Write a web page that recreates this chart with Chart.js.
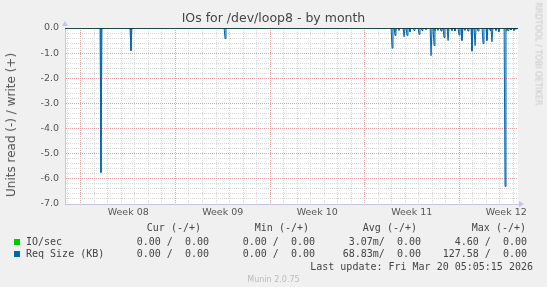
<!DOCTYPE html>
<html lang="en">
    <head>
        <meta charset="UTF-8" />
        <title>IOs for /dev/loop8 - by month</title>
        <script src="https://cdn.jsdelivr.net/npm/chart.js@4/dist/chart.umd.min.js"></script>
        <style>
            body { margin: 0; background: #f0f0f0; }
            #wrap { position: relative; width: 547px; height: 287px; overflow: hidden; }
            #myChart { position: absolute; left: 0; top: 0; }
            .t { position: absolute; white-space: pre; color: #444; }
            .mono { font-family: "DejaVu Sans Mono", monospace; font-size: 10px; line-height: 12px; }
            .sq { position: absolute; width: 6px; height: 6px; }
        </style>
    </head>

    <body>
        <div id="wrap">
            <canvas id="myChart" width="547" height="287"></canvas>
            <div class="t" style="left:0;width:547px;top:10px;text-align:center;font:12.5px 'DejaVu Sans';color:#444">IOs for /dev/loop8 - by month</div>
            <div class="t" style="left:11px;top:125px;transform:translate(-50%,-50%) rotate(-90deg);font:12px 'DejaVu Sans';color:#555">Units read (-) / write (+)</div>
            <div class="t" style="left:538px;top:54px;transform:translate(-50%,-50%) rotate(90deg);font:8px 'DejaVu Sans';color:#c8c8c8">RRDTOOL / TOBI OETIKER</div>

            <div class="t mono" style="right:346px;top:222px">Cur (-/+)</div>
            <div class="t mono" style="right:238px;top:222px">Min (-/+)</div>
            <div class="t mono" style="right:130px;top:222px">Avg (-/+)</div>
            <div class="t mono" style="right:21px;top:222px">Max (-/+)</div>

            <div class="sq" style="left:14px;top:239px;background:#00cc00"></div>
            <div class="t mono" style="left:26px;top:236px">IO/sec</div>
            <div class="t mono" style="right:338px;top:236px">0.00 /  0.00</div>
            <div class="t mono" style="right:232px;top:236px">0.00 /  0.00</div>
            <div class="t mono" style="right:126px;top:236px">3.07m/  0.00</div>
            <div class="t mono" style="right:20px;top:236px">4.60 /  0.00</div>

            <div class="sq" style="left:14px;top:251px;background:#0066b3"></div>
            <div class="t mono" style="left:26px;top:248px">Req Size (KB)</div>
            <div class="t mono" style="right:338px;top:248px">0.00 /  0.00</div>
            <div class="t mono" style="right:232px;top:248px">0.00 /  0.00</div>
            <div class="t mono" style="right:126px;top:248px">68.83m/  0.00</div>
            <div class="t mono" style="right:20px;top:248px">127.58 /  0.00</div>

            <div class="t mono" style="right:14px;top:261px">Last update: Fri Mar 20 05:05:15 2026</div>
            <div class="t" style="left:0;width:547px;top:275px;text-align:center;font:8px 'DejaVu Sans';color:#bbb">Munin 2.0.75</div>
        </div>
    </body>

    <script>
        // x = days since Mon 16 Feb 2026 00:00 (start of week 08)
        const xMin = -1.185;
        const xMax = 32.37;
        const firstWeek = 8;

        // Req Size (KB), read side (negative)
        const reqDays = [1.48, 3.7, 10.67, 23.04, 23.26, 23.56, 23.93, 24.15, 24.37, 24.67, 25.04, 25.26, 25.56,
            25.93, 26.15, 26.44, 26.67, 26.89, 27.19, 27.48, 27.7, 28.0, 28.22, 28.44, 28.67, 28.96, 29.19,
            29.41, 29.78, 30.07, 30.3, 30.44, 30.74, 30.96, 31.41, 31.63, 31.85, 32.07, 32.22];
        const reqVals = [-5.75, -0.9, -0.42, -0.8, -0.3, -0.1, -0.35, -0.3, -0.15, -0.1, -0.25, -0.1, -0.08,
            -1.1, -0.7, -0.1, -0.12, -0.38, -0.5, -0.1, -0.12, -0.28, -0.5, -0.1, -0.12, -0.92, -0.7,
            -0.12, -0.62, -0.5, -0.1, -0.55, -0.1, -0.15, -6.3, -0.1, -0.08, -0.1, -0.05];

        // IO/sec, read side
        const ioDays = [23.26, 26.22, 27.19, 31.55];
        const ioVals = [-0.12, -0.12, -0.12, -0.12];

        function series(days, vals) {
            const pts = [{ x: xMin, y: 0 }];
            days.forEach((d, i) => {
                pts.push({ x: d - 0.07, y: 0 });
                pts.push({ x: d, y: vals[i] });
                pts.push({ x: d + 0.07, y: 0 });
            });
            pts.push({ x: xMax, y: 0 });
            return pts;
        }

        const axisCol = "#c4c4e4";

        const plotBg = {
            id: "plotBg",
            beforeDraw(chart) {
                const a = chart.chartArea;
                const ctx = chart.ctx;
                ctx.save();
                ctx.fillStyle = "#ffffff";
                ctx.fillRect(a.left, a.top, a.right - a.left, a.bottom - a.top);
                ctx.restore();
            },
            afterDraw(chart) {
                const a = chart.chartArea;
                const ctx = chart.ctx;
                ctx.save();
                ctx.fillStyle = axisCol;
                // arrow on top of y axis
                ctx.beginPath();
                ctx.moveTo(a.left - 3, a.top - 2);
                ctx.lineTo(a.left + 3, a.top - 2);
                ctx.lineTo(a.left, a.top - 7);
                ctx.fill();
                // arrow on right of x axis
                ctx.beginPath();
                ctx.moveTo(a.right + 1, a.bottom - 3);
                ctx.lineTo(a.right + 1, a.bottom + 3);
                ctx.lineTo(a.right + 6, a.bottom);
                ctx.fill();
                ctx.restore();
            },
        };

        const chart = new Chart("myChart", {
            type: "line",
            data: {
                datasets: [
                    {
                        data: [{ x: xMin, y: 0 }, { x: xMax, y: 0 }],
                        borderColor: "#000000",
                        borderWidth: 1,
                        pointRadius: 0,
                        order: 0,
                    },
                    {
                        data: series(ioDays, ioVals),
                        borderColor: "#00cc00",
                        borderWidth: 1,
                        pointRadius: 0,
                        order: 2,
                    },
                    {
                        data: series(reqDays, reqVals),
                        borderColor: "#0066b3",
                        backgroundColor: "rgba(0,102,179,0.3)",
                        fill: "origin",
                        borderWidth: 1,
                        pointRadius: 0,
                        order: 1,
                    },
                ],
            },
            plugins: [plotBg],
            options: {
                responsive: false,
                animation: false,
                layout: { padding: { left: 0, top: 28, right: 29, bottom: 58 } },
                plugins: { legend: { display: false }, tooltip: { enabled: false } },
                scales: {
                    x: {
                        type: "linear",
                        min: xMin,
                        max: xMax,
                        afterBuildTicks: (scale) => {
                            const t = [];
                            for (let d = -1; d <= 32; d++) t.push({ value: d });
                            for (let w = 0; w < 5; w++) t.push({ value: w * 7 + 3.5 });
                            scale.ticks = t.sort((a, b) => a.value - b.value);
                        },
                        afterFit: (scale) => { scale.height = 25; },
                        ticks: {
                            autoSkip: false,
                            maxRotation: 0,
                            padding: 3,
                            color: "#555",
                            font: { family: "DejaVu Sans", size: 9.5 },
                            callback: (v) => {
                                const w = (v - 3.5) / 7;
                                if (Number.isInteger(w)) return "Week " + String(firstWeek + w).padStart(2, "0");
                                return "";
                            },
                        },
                        grid: {
                            drawTicks: false,
                            color: (c) => {
                                const v = c.tick ? c.tick.value : 0;
                                if (!Number.isInteger(v)) return "rgba(0,0,0,0)";
                                if (v % 7 === 0) return "#e8a0a0";
                                return "#d8d8d8";
                            },
                        },
                        border: { color: axisCol, dash: [1, 1] },
                    },
                    y: {
                        min: -7,
                        max: 0,
                        afterBuildTicks: (scale) => {
                            const t = [];
                            for (let i = -35; i <= 0; i++) t.push({ value: i / 5 });
                            scale.ticks = t;
                        },
                        afterFit: (scale) => { scale.width = 65; },
                        ticks: {
                            autoSkip: false,
                            padding: 6,
                            color: "#555",
                            font: { family: "DejaVu Sans", size: 9.5 },
                            callback: (v) => {
                                if (Math.abs(v - Math.round(v)) > 1e-6) return "";
                                return Math.round(v) === 0 ? "0.0" : Math.round(v).toFixed(1);
                            },
                        },
                        grid: {
                            drawTicks: false,
                            color: (c) => {
                                const v = c.tick ? c.tick.value : 0;
                                if (Math.abs(v - Math.round(v)) < 1e-6) return "#e8a0a0";
                                return "#d8d8d8";
                            },
                        },
                        border: { color: axisCol, dash: [1, 1] },
                    },
                },
            },
        });
    </script>
</html>
